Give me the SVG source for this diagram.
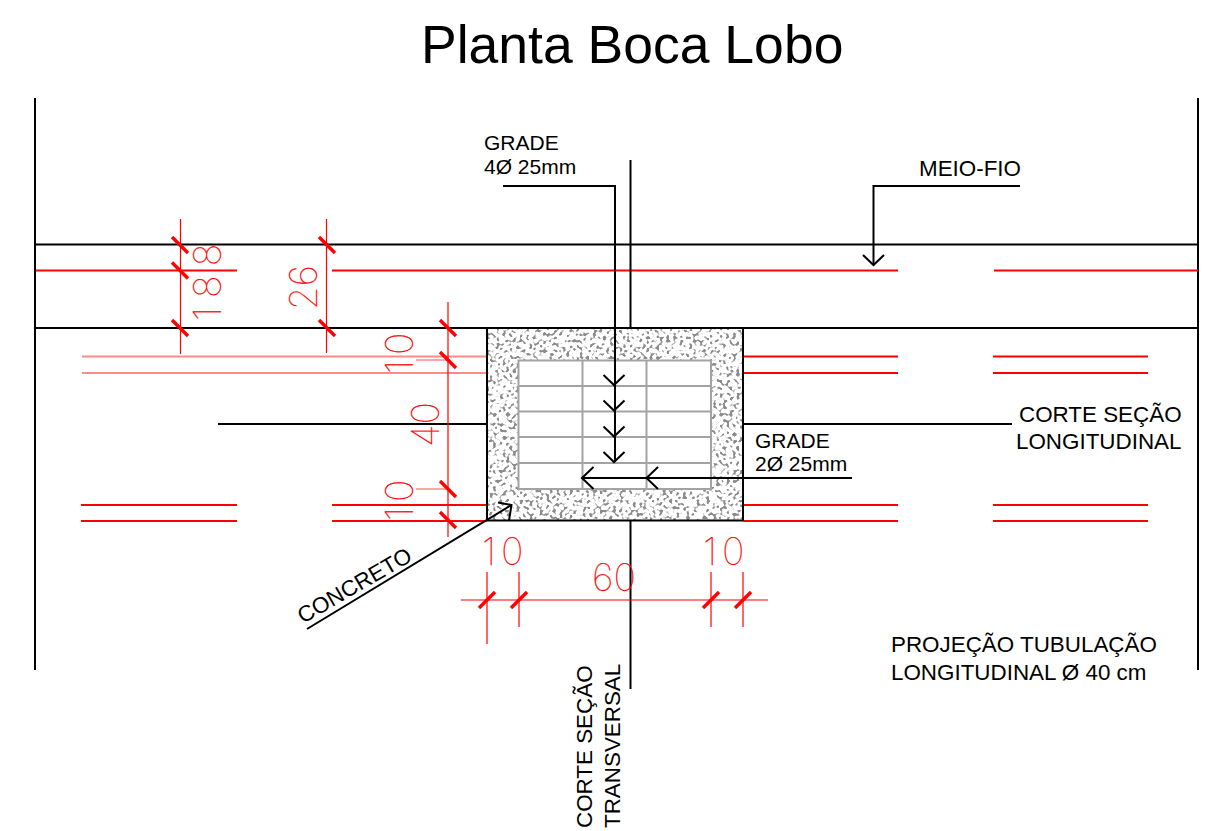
<svg xmlns="http://www.w3.org/2000/svg" width="1209" height="831" viewBox="0 0 1209 831">
<style>
.t{font-family:"Liberation Sans",Arial,sans-serif;font-size:22.400px;fill:#000}
.s{font-size:21px}
.d{font-family:"Inter","Roboto",sans-serif;font-weight:100;font-size:38px;fill:#f00;stroke:#f00;stroke-width:.25}
.k{stroke:#000;stroke-width:2;fill:none}
.r{stroke:#f00;stroke-width:2;fill:none}
.p{stroke:#ff8a8a;stroke-width:2;fill:none}
.h{stroke:#f00;stroke-width:1.2;fill:none}
.x{stroke:#f00;stroke-width:3.4;fill:none}
.g{stroke:#a3a3a3;stroke-width:2;fill:none}
</style>
<defs>
<filter id="speckle" x="0" y="0" width="1" height="1" color-interpolation-filters="sRGB">
<feTurbulence type="fractalNoise" baseFrequency="0.3" numOctaves="1" seed="7" result="n"/>
<feColorMatrix in="n" type="matrix" values="0 0 0 0 0.55 0 0 0 0 0.55 0 0 0 0 0.55 9 0 0 0 -4.800"/>
</filter>
<path id="tick" d="M-8-8 8 8"/>
<path id="tick2" d="M-8 8 8-8"/>
<path id="ah" d="M-10.500-10 0 0 10.500-10"/>
<path id="al" d="M11.500-11 0 0 11.500 11"/>
</defs>
<text id="title" x="421" y="63" style="font-family:'Liberation Sans',Arial,sans-serif;font-size:53.500px" fill="#000">Planta Boca Lobo</text>
<g id="road">
<path class="k" d="M35 98V670M1198 98V670M36 244.500H1198M36 328H1198"/>
<path class="r" d="M36 270.500H237M332 270.500H898M994 270.500H1198M743 356.500H898M993 356.500H1148M743 373H898M993 373H1148M81 505H237M332 505H487M743 505H898M993 505H1148M81 521H237M332 521H487M743 521H898M993 521H1148"/>
<path class="p" d="M82 356.500H487M82 373H487"/>
</g>
<g id="boca-lobo">
<rect x="488" y="329" width="255" height="191" fill="#fff"/>
<rect x="488" y="329" width="255" height="191" filter="url(#speckle)"/>
<rect x="519" y="361" width="192" height="128" fill="#fff"/>
<path class="g" d="M518.500 360.500H711V489H518.500ZM582.500 360.500V489M646.500 360.500V489M518.500 386H711M518.500 411.500H711M518.500 437H711M518.500 463H711"/>
<path class="k" d="M487 328V521M743 328V521M487 520.500H743"/>
</g>
<g id="connectors">
<path class="k" d="M630.500 160V328M630.500 520V689M218 424H487M743 424H1012"/>
<path class="k" d="M503 186H615V462"/>
<use href="#ah" class="k" x="614" y="385"/><use href="#ah" class="k" x="614" y="410.500"/><use href="#ah" class="k" x="614" y="436.500"/><use href="#ah" class="k" x="614" y="462"/>
<path class="k" d="M582 478H852"/>
<use href="#al" class="k" x="582" y="478"/><use href="#al" class="k" x="646.500" y="478"/>
<path class="k" d="M1020 186H873.500V265"/>
<use href="#ah" class="k" x="873.500" y="265"/>
<path class="k" d="M307 629 511.500 505M498 502.500 511.500 505 509 520.500"/>
</g>
<g id="dimensions">
<path class="h" d="M180.500 219V354M326.500 219V353M448 302V537M461 600H768M487 572V644M519 572V627M711 572V627M743 572V627"/>
<path class="p" d="M416 360H447M416 489H447" style="stroke-width:1.500"/>
<g class="x">
<use href="#tick" x="180" y="245"/><use href="#tick" x="180" y="270.500"/><use href="#tick" x="180" y="328"/>
<use href="#tick" x="327" y="245"/><use href="#tick" x="327" y="328"/>
<use href="#tick" x="448" y="328"/><use href="#tick" x="448" y="360"/><use href="#tick" x="448" y="489"/><use href="#tick" x="448" y="520"/>
<use href="#tick2" x="487" y="600"/><use href="#tick2" x="519" y="600"/><use href="#tick2" x="711" y="600"/><use href="#tick2" x="743" y="600"/>
</g>
<text class="d" transform="translate(221 321) rotate(-90)" letter-spacing="9">188</text>
<text class="d" transform="translate(317 310) rotate(-90)">26</text>
<text class="d" transform="translate(413 374) rotate(-90)" letter-spacing="5">10</text>
<text class="d" transform="translate(439 447) rotate(-90)">40</text>
<text class="d" transform="translate(413 521) rotate(-90)" letter-spacing="5">10</text>
<text class="d" x="482" y="565" letter-spacing="5">10</text>
<text class="d" x="703" y="565" letter-spacing="5">10</text>
<text class="d" x="592" y="591">60</text>
</g>
<g id="labels">
<text class="t s" x="484" y="150">GRADE</text>
<text class="t s" x="484" y="174">4Ø 25mm</text>
<text class="t" x="919" y="176">MEIO-FIO</text>
<text class="t" x="1019" y="422">CORTE SEÇÃO</text>
<text class="t" x="1016" y="449">LONGITUDINAL</text>
<text class="t s" x="755" y="448">GRADE</text>
<text class="t s" x="755" y="471">2Ø 25mm</text>
<text class="t" x="891" y="652">PROJEÇÃO TUBULAÇÃO</text>
<text class="t" x="891" y="680">LONGITUDINAL Ø 40 cm</text>
<text class="t" transform="translate(592 828) rotate(-90)">CORTE SEÇÃO</text>
<text class="t" transform="translate(620 828) rotate(-90)">TRANSVERSAL</text>
<text class="t" transform="translate(303 624) rotate(-30)">CONCRETO</text>
</g>
</svg>
